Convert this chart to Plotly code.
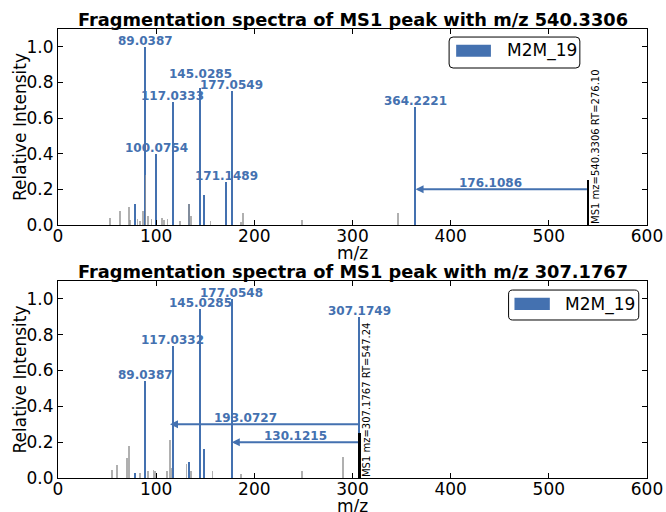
import plotly.graph_objects as go

# ---------------- data ----------------
# Panel 1: MS1 peak 540.3306
ms1_mz_1 = 540.3306
ms1_rt_1 = "276.10"
blue_mz_1 = [78.3, 89.0387, 100.0754, 117.0333, 133.7, 145.0285, 149.4, 171.1489, 177.0549, 364.2221]
blue_int_1 = [0.12, 1.0, 0.40, 0.69, 0.12, 0.77, 0.17, 0.24, 0.75, 0.665]
blue_lab_1 = ["", "89.0387", "100.0754", "117.0333", "", "145.0285", "", "171.1489", "177.0549", "364.2221"]
gray_mz_1 = [53.1, 63.0, 72.1, 73.2, 81.0, 83.3, 86.7, 89.0, 91.5, 95.3, 106.1, 108.0, 111.6,
             124.2, 133.4, 135.4, 155.5, 186.7, 188.5, 248.3, 346.6]
gray_int_1 = [0.04, 0.08, 0.10, 0.03, 0.035, 0.025, 0.08, 0.28, 0.05, 0.035, 0.04, 0.03, 0.035,
              0.02, 0.12, 0.05, 0.02, 0.017, 0.065, 0.03, 0.07]
loss_1 = [176.1086]
loss_y_1 = [0.2]

# Panel 2: MS1 peak 307.1767
ms1_mz_2 = 307.1767
ms1_rt_2 = "547.24"
blue_mz_2 = [78.3, 89.0387, 117.0332, 133.7, 145.0285, 149.4, 177.0548, 307.1749]
blue_int_2 = [0.03, 0.54, 0.736, 0.09, 0.945, 0.16, 1.0, 0.90]
blue_lab_2 = ["", "89.0387", "117.0332", "", "145.0285", "", "177.0548", "307.1749"]
gray_mz_2 = [55.1, 59.9, 70.1, 72.1, 83.3, 91.5, 97.3, 98.6, 111.2, 114.3, 115.6, 131.0,
             135.4, 157.5, 186.4, 248.3, 290.5]
gray_int_2 = [0.047, 0.07, 0.11, 0.18, 0.03, 0.04, 0.045, 0.04, 0.04, 0.21, 0.055, 0.08,
              0.04, 0.04, 0.025, 0.04, 0.12]
loss_2 = [193.0727, 130.1215]
loss_y_2 = [0.3, 0.2]

ms1_height = 0.25
series_name = "M2M_19"
x_ticks = [0, 100, 200, 300, 400, 500, 600]
y_ticks = [0.0, 0.2, 0.4, 0.6, 0.8, 1.0]

# ---------------- style ----------------
BLUE = "#4471b0"
GRAY = "rgba(150,150,150,0.75)"
FONT = "DejaVu Sans"
AX_W, AX_H = 589.0, 196.0   # axes size in px (for rounded legend corners)
# small pixel nudges for crowded labels
label_nudge = {("x", "145.0285"): 8}
loss_label_xshift = {("x", 0): -11, ("x2", 0): -19, ("x2", 1): 0}

panels = [
    dict(ms1=ms1_mz_1, rt=ms1_rt_1, bmz=blue_mz_1, bint=blue_int_1, blab=blue_lab_1,
         gmz=gray_mz_1, gint=gray_int_1, loss=loss_1, lossy=loss_y_1,
         xa="x", ya="y", leg=dict(box=(0.664, 0.886, 0.801, 0.959), patch=(0.676, 0.735, 0.859, 0.92), tx=0.759, ty=0.89)),
    dict(ms1=ms1_mz_2, rt=ms1_rt_2, bmz=blue_mz_2, bint=blue_int_2, blab=blue_lab_2,
         gmz=gray_mz_2, gint=gray_int_2, loss=loss_2, lossy=loss_y_2,
         xa="x2", ya="y2", leg=dict(box=(0.765, 0.986, 0.802, 0.954), patch=(0.775, 0.835, 0.853, 0.915), tx=0.857, ty=0.883)),
]


def rounded_rect(x0, x1, y0, y1, r=4):
    rx, ry = r / AX_W, r / AX_H
    return (f"M {x0+rx},{y0} L {x1-rx},{y0} Q {x1},{y0} {x1},{y0+ry} "
            f"L {x1},{y1-ry} Q {x1},{y1} {x1-rx},{y1} L {x0+rx},{y1} "
            f"Q {x0},{y1} {x0},{y1-ry} L {x0},{y0+ry} Q {x0},{y0} {x0+rx},{y0} Z")


fig = go.Figure()
annotations = []
shapes = []

for p in panels:
    xa, ya = p["xa"], p["ya"]
    fig.add_trace(go.Bar(x=p["bmz"], y=p["bint"], width=1.5, marker=dict(color=BLUE, line=dict(width=0)),
                         xaxis=xa, yaxis=ya, showlegend=False, hoverinfo="x+y"))
    fig.add_trace(go.Bar(x=p["gmz"], y=p["gint"], width=1.6, marker=dict(color=GRAY, line=dict(width=0)),
                         xaxis=xa, yaxis=ya, showlegend=False, hoverinfo="x+y"))
    fig.add_trace(go.Bar(x=[p["ms1"]], y=[ms1_height], width=2.0, marker=dict(color="black", line=dict(width=0)),
                         xaxis=xa, yaxis=ya, showlegend=False, hoverinfo="x"))
    # peak labels
    for mz, it, lab in zip(p["bmz"], p["bint"], p["blab"]):
        if lab:
            annotations.append(dict(x=mz, y=it, xref=xa, yref=ya, text="<b>%s</b>" % lab,
                                    showarrow=False, yanchor="bottom", xanchor="center",
                                    yshift=-3 + label_nudge.get((xa, lab), 0),
                                    font=dict(family=FONT, size=12, color=BLUE)))
    # neutral-loss arrows
    for i, (d, yy) in enumerate(zip(p["loss"], p["lossy"])):
        target = p["ms1"] - d
        annotations.append(dict(x=target, y=yy, ax=p["ms1"], ay=yy, xref=xa, yref=ya,
                                axref=xa, ayref=ya, text="", showarrow=True, arrowhead=2,
                                arrowsize=0.8, arrowwidth=2, arrowcolor=BLUE, standoff=0))
        annotations.append(dict(x=(target + p["ms1"]) / 2, y=yy, xref=xa, yref=ya,
                                text="<b>%.4f</b>" % d, showarrow=False, yanchor="bottom",
                                yshift=-3, xshift=loss_label_xshift.get((xa, i), 0),
                                font=dict(family=FONT, size=12, color=BLUE)))
    # MS1 text
    annotations.append(dict(x=p["ms1"], y=0, xref=xa, yref=ya, textangle=-90,
                            text="MS1 mz=%.4f RT=%s" % (p["ms1"], p["rt"]), showarrow=False,
                            xanchor="left", yanchor="bottom", xshift=0, yshift=-1,
                            font=dict(family=FONT, size=10, color="black")))
    # title
    annotations.append(dict(x=0.5, y=1, xref=xa + " domain", yref=ya + " domain",
                            text="<b>Fragmentation spectra of MS1 peak with m/z %.4f</b>" % p["ms1"],
                            showarrow=False, xanchor="center", yanchor="bottom", yshift=-3,
                            font=dict(family=FONT, size=17.8, color="black")))
    # axis titles
    annotations.append(dict(x=0.5, y=0, xref=xa + " domain", yref=ya + " domain", text="m/z",
                            showarrow=False, xanchor="center", yanchor="middle", yshift=-28,
                            font=dict(family=FONT, size=17, color="black")))
    annotations.append(dict(x=0, y=0.5, xref=xa + " domain", yref=ya + " domain",
                            text="Relative Intensity", textangle=-90,
                            showarrow=False, xanchor="center", yanchor="middle", xshift=-38,
                            font=dict(family=FONT, size=17, color="black")))
    # legend drawn in axes-domain coordinates
    L = p["leg"]
    shapes.append(dict(type="path", xref=xa + " domain", yref=ya + " domain",
                       path=rounded_rect(*L["box"]),
                       line=dict(color="black", width=1), fillcolor="white", layer="above"))
    shapes.append(dict(type="rect", xref=xa + " domain", yref=ya + " domain",
                       x0=L["patch"][0], x1=L["patch"][1], y0=L["patch"][2], y1=L["patch"][3],
                       line=dict(width=0), fillcolor=BLUE, layer="above"))
    annotations.append(dict(x=L["tx"], y=L["ty"], xref=xa + " domain", yref=ya + " domain",
                            text=series_name, showarrow=False, xanchor="left", yanchor="middle",
                            font=dict(family=FONT, size=17, color="black")))

axis_common = dict(showline=True, linecolor="black", linewidth=1, mirror="ticks",
                   ticks="inside", ticklen=5, tickcolor="black", showgrid=False, zeroline=False,
                   automargin=False, tickfont=dict(family=FONT, size=17, color="black"))

fig.update_layout(
    width=666, height=512,
    margin=dict(l=58, r=19, t=29, b=34),
    paper_bgcolor="white", plot_bgcolor="white",
    barmode="overlay", bargap=0,
    showlegend=False,
    annotations=annotations, shapes=shapes,
    font=dict(family=FONT, color="black"),
    xaxis=dict(domain=[0, 1], anchor="y", range=[0, 600], tickvals=x_ticks,
               ticklabelstandoff=-4, **axis_common),
    yaxis=dict(domain=[0.5635, 1], anchor="x", range=[0, 1.1], tickvals=y_ticks, tickformat=".1f",
               **axis_common),
    xaxis2=dict(domain=[0, 1], anchor="y2", range=[0, 600], tickvals=x_ticks,
                ticklabelstandoff=-4, **axis_common),
    yaxis2=dict(domain=[0, 0.4388], anchor="x2", range=[0, 1.1], tickvals=y_ticks, tickformat=".1f",
                **axis_common),
)

# remove the default page margin so the 666x512 figure fills the window exactly
fig.write_html("out.html", config={"displayModeBar": False},
               post_script="document.body.style.margin='0px';document.body.style.overflow='hidden';")
